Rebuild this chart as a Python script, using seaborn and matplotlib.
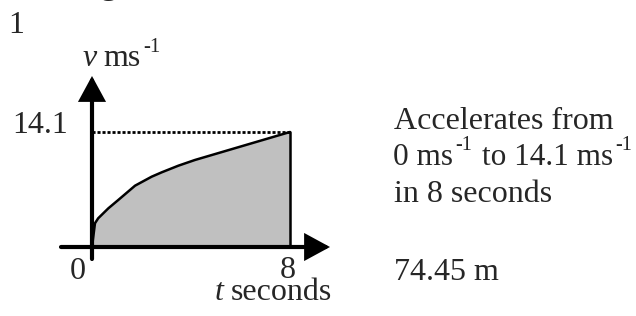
import matplotlib
matplotlib.use("Agg")
import matplotlib.pyplot as plt
import seaborn as sns
import numpy as np

# velocity-time curve
t_sec = [0, 0.12, 0.25, 0.66, 1.06, 1.74, 2.41, 2.82, 3.49, 4.16, 8]
v_ms = [0, 2.91, 3.52, 4.74, 5.76, 7.52, 8.62, 9.16, 9.97, 10.67, 14.1]

v_max = 14.1
t_end = 8
distance = "74.45 m"
y_tick = "14.1"
x_ticks = ["0", "8"]

W, H = 636, 316

# pixel layout of the drawing
PX_T0, PX_T8 = 92, 290
PX_V0, PX_VMAX = 247, 132

FS = 23
FS_SUP = 15


def main():
    sns.set_style("white")
    plt.rcParams["font.family"] = ["Liberation Serif", "DejaVu Serif"]

    fig = plt.figure(figsize=(W / 100, H / 100), dpi=100)
    ax = fig.add_axes([0, 0, 1, 1])

    sx = (PX_T8 - PX_T0) / t_end
    sy = (PX_V0 - PX_VMAX) / v_max
    ax.set_xlim(-PX_T0 / sx, (W - PX_T0) / sx)
    ax.set_ylim(-(H - PX_V0) / sy, PX_V0 / sy)
    ax.axis("off")

    ax.fill_between(t_sec, v_ms, 0, color="#c0c0c0", lw=0, zorder=1)
    sns.lineplot(x=t_sec, y=v_ms, ax=ax, color="black", lw=1.8, zorder=3)
    ax.plot([t_end, t_end], [0, v_max], color="black", lw=1.8, zorder=3)
    ax.plot([0, t_end], [v_max, v_max], color="black", lw=2,
            linestyle=(0, (1.1, 0.7)), zorder=3)

    # axes with arrows
    arrow = dict(arrowstyle="-|>,head_length=0.7,head_width=0.38", color="black",
                 lw=3, shrinkA=0, shrinkB=0, mutation_scale=20, joinstyle="miter")
    ax.annotate("", xy=(0, (PX_V0 - 76) / sy), xytext=(0, -(259 - PX_V0) / sy),
                arrowprops=arrow, zorder=4)
    ax.annotate("", xy=((330 - PX_T0) / sx, 0), xytext=(-(PX_T0 - 61) / sx, 0),
                arrowprops=arrow, zorder=4)

    renderer = fig.canvas.get_renderer()

    def txt(x, y, s, size=FS, **kw):
        return fig.text(x / W, 1 - y / H, s, fontsize=size, va="baseline", **kw)

    def chain(x, y, pieces):
        # pieces: (text, size, baseline shift, gap before)
        for s, size, dy, gap in pieces:
            x += gap
            t = txt(x, y + dy, s, size=size)
            x = t.get_window_extent(renderer).x1

    txt(100, -6, "g", weight="bold")
    txt(8, 33, "1")

    txt(83, 66, "v", style="italic")
    txt(103, 66, "ms")
    txt(143, 52, "-1", size=FS_SUP)

    txt(68, 133, y_tick, ha="right")
    txt(77.5, 279, x_ticks[0], ha="center")
    txt(287.5, 278, x_ticks[1], ha="center")
    txt(215, 300, "t", style="italic")
    txt(231, 300, "seconds")

    txt(394, 129, "Accelerates from")
    chain(393, 165, [("0 ms", 22.5, 0, 0), ("-1", 14.5, -15, 2),
                     ("to 14.1 ms", 22.5, 0, 10), ("-1", 14.5, -15, 2)])
    txt(394, 202, "in 8 seconds")
    txt(394, 280, distance)

    fig.savefig("out.png", dpi=100)


if __name__ == "__main__":
    main()
